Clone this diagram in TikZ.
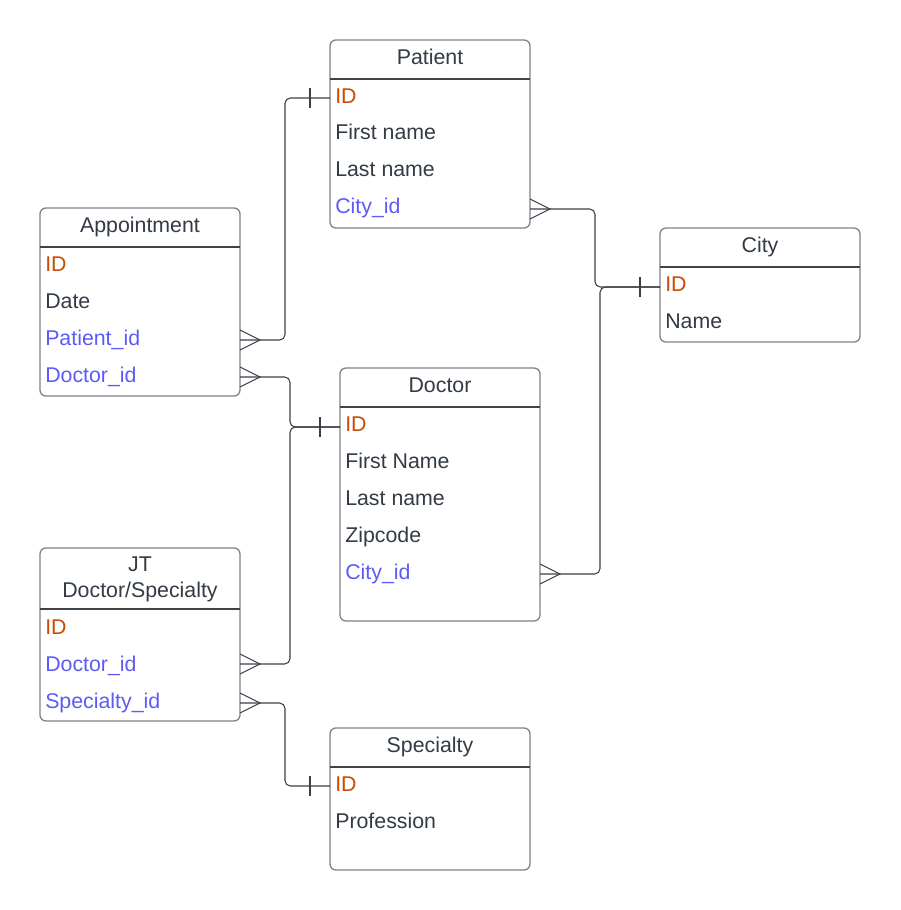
\documentclass[tikz,border=0pt]{standalone}
\usepackage{fontspec}
\setmainfont{Liberation Sans}
\usetikzlibrary{calc}
\definecolor{txt}{HTML}{333B45}
\definecolor{idc}{HTML}{C94B05}
\definecolor{fkc}{HTML}{5C5CF5}
\definecolor{bord}{HTML}{7D838A}
\definecolor{sep}{HTML}{3E434B}
\definecolor{linec}{HTML}{3A3F47}
\tikzset{
  entity/.style={draw=bord, line width=1pt, rounded corners=4.5pt, fill=white},
  sepline/.style={draw=sep, line width=0.8pt},
  conn/.style={draw=linec, line width=0.8pt, rounded corners=4pt},
  crow/.style={draw=linec, line width=0.8pt},
  title/.style={anchor=base, inner sep=0pt, text=txt, font=\fontsize{16}{19}\selectfont},
  row/.style={anchor=base west, inner sep=0pt, text=txt, font=\fontsize{16}{19}\selectfont},
  pk/.style={row, text=idc},
  fk/.style={row, text=fkc}
}
\newcommand\crowfoot[1]{\draw[crow] ($(#1)+(0,-10)$) -- ($(#1)+(20,0)$) -- ($(#1)+(0,10)$);}
\newcommand\onebar[1]{\draw[crow] ($(#1)+(-20,-10)$) -- ($(#1)+(-20,10)$);}
\begin{document}
\begin{tikzpicture}[x=0.75pt,y=-0.75pt]
\useasboundingbox (0,0) rectangle (900,910);
% Patient
\draw[entity] (330,40) rectangle (530,228);
\draw[sepline] (330,79) -- (530,79);
\node[title] (patT) at (430,64.5) {Patient};
\node[pk] (patR1) at (335,103.5) {ID};
\node[row] (patR2) at (335,139.5) {First name};
\node[row] (patR3) at (335,176.5) {Last name};
\node[fk] (patR4) at (335,213.5) {City\_id};
% Appointment
\draw[entity] (40,208) rectangle (240,396);
\draw[sepline] (40,247) -- (240,247);
\node[title] (appT) at (140,232.5) {Appointment};
\node[pk] (appR1) at (45,271.5) {ID};
\node[row] (appR2) at (45,308.5) {Date};
\node[fk] (appR3) at (45,345.5) {Patient\_id};
\node[fk] (appR4) at (45,382.5) {Doctor\_id};
% City
\draw[entity] (660,228) rectangle (860,342);
\draw[sepline] (660,267) -- (860,267);
\node[title] (cityT) at (760,252.5) {City};
\node[pk] (cityR1) at (665,291.5) {ID};
\node[row] (cityR2) at (665,328.5) {Name};
% Doctor
\draw[entity] (340,368) rectangle (540,621);
\draw[sepline] (340,407) -- (540,407);
\node[title] (docT) at (440,392.5) {Doctor};
\node[pk] (docR1) at (345,431.5) {ID};
\node[row] (docR2) at (345,468.5) {First Name};
\node[row] (docR3) at (345,505.5) {Last name};
\node[row] (docR4) at (345,542.5) {Zipcode};
\node[fk] (docR5) at (345,579.5) {City\_id};
% JT Doctor/Specialty
\draw[entity] (40,548) rectangle (240,721);
\draw[sepline] (40,609) -- (240,609);
\node[title] (jtT1) at (140,571.5) {JT};
\node[title] (jtT2) at (140,597.5) {Doctor/Specialty};
\node[pk] (jtR1) at (45,634.5) {ID};
\node[fk] (jtR2) at (45,671.5) {Doctor\_id};
\node[fk] (jtR3) at (45,708.5) {Specialty\_id};
% Specialty
\draw[entity] (330,728) rectangle (530,870);
\draw[sepline] (330,767) -- (530,767);
\node[title] (spT) at (430,752.5) {Specialty};
\node[pk] (spR1) at (335,791.5) {ID};
\node[row] (spR2) at (335,828.5) {Profession};
% connection points
\coordinate (appPat) at (240,340);
\coordinate (appDoc) at (240,377);
\coordinate (patID) at (330,98);
\coordinate (patCity) at (530,209);
\coordinate (cityID) at (660,287);
\coordinate (docID) at (340,427);
\coordinate (docCity) at (540,574);
\coordinate (jtDoc) at (240,664);
\coordinate (jtSp) at (240,703);
\coordinate (spID) at (330,786);
% connectors
\draw[conn] (appPat) -- ++(45,0) |- (patID);
\draw[conn] (appDoc) -- ++(50,0) |- (docID);
\draw[conn] (jtDoc) -- ++(50,0) |- (docID);
\draw[conn] (patCity) -- ++(65,0) |- (cityID);
\draw[conn] (docCity) -- ++(60,0) |- (cityID);
\draw[conn] (jtSp) -- ++(45,0) |- (spID);
% crow's feet
\crowfoot{appPat}
\crowfoot{appDoc}
\crowfoot{jtDoc}
\crowfoot{jtSp}
\crowfoot{patCity}
\crowfoot{docCity}
% one bars
\onebar{patID}
\onebar{docID}
\onebar{cityID}
\onebar{spID}
\end{tikzpicture}
\end{document}
